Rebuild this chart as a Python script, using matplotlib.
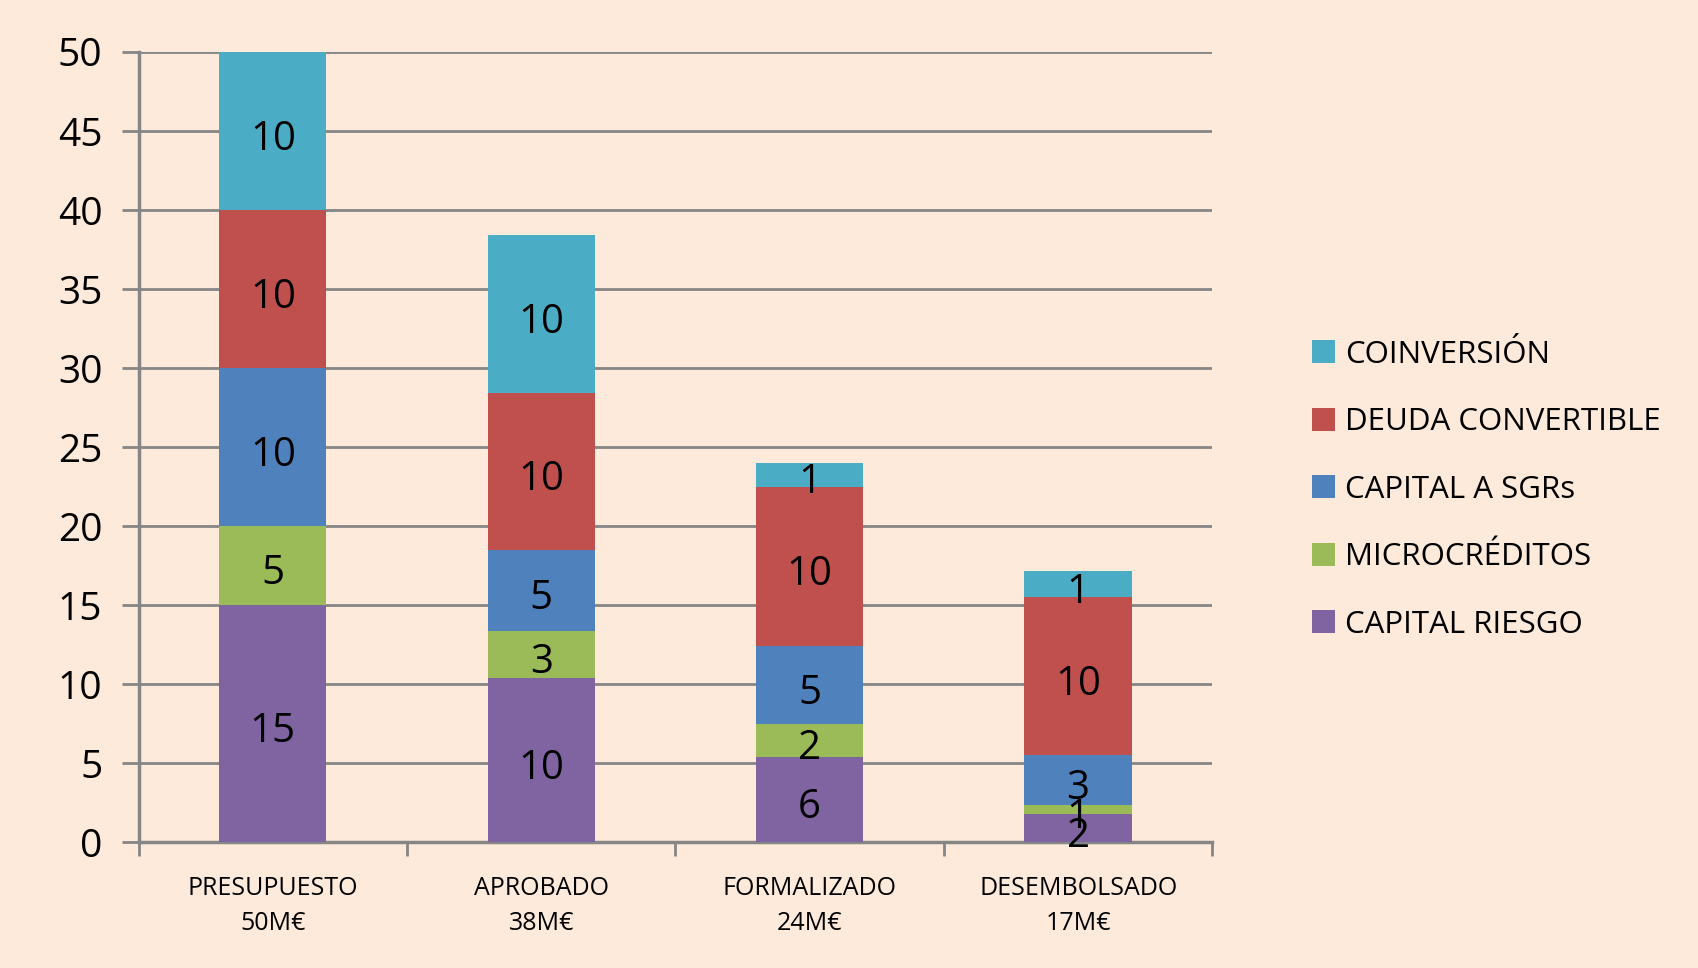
import numpy as np
import matplotlib.pyplot as plt

categorias = ['PRESUPUESTO\n50M€', 'APROBADO\n38M€', 'FORMALIZADO\n24M€', 'DESEMBOLSADO\n17M€']
series = ['CAPITAL RIESGO', 'MICROCRÉDITOS', 'CAPITAL A SGRs', 'DEUDA CONVERTIBLE', 'COINVERSIÓN']

capital_riesgo = [15, 10.4, 5.4, 1.8]
microcreditos = [5, 3.0, 2.1, 0.6]
capital_sgr = [10, 5.1, 4.9, 3.1]
deuda_conv = [10, 9.9, 10.1, 10.0]
coinversion = [10, 10.0, 1.5, 1.7]

etiq_riesgo = ['15', '10', '6', '2']
etiq_micro = ['5', '3', '2', '1']
etiq_sgr = ['10', '5', '5', '3']
etiq_deuda = ['10', '10', '10', '10']
etiq_coinv = ['10', '10', '1', '1']

colores = ['#8064A2', '#9BBB59', '#4F81BD', '#C0504D', '#4BACC6']
fondo = '#FDEADA'

plt.rcParams['font.family'] = ['Open Sans', 'DejaVu Sans']

fig = plt.figure(figsize=(16.98, 9.68), dpi=100, facecolor=fondo)
ax = fig.add_axes([0.0816, 0.1297, 0.6324, 0.8166])
ax.set_facecolor(fondo)

x = np.arange(len(categorias))
valores = [capital_riesgo, microcreditos, capital_sgr, deuda_conv, coinversion]
etiquetas = [etiq_riesgo, etiq_micro, etiq_sgr, etiq_deuda, etiq_coinv]
base = np.zeros(len(categorias))
barras = []
for vals, labs, col, nom in zip(valores, etiquetas, colores, series):
    vals = np.array(vals)
    b = ax.bar(x, vals, 0.40, bottom=base, color=col, label=nom, zorder=3)
    barras.append(b)
    for xi, v, bi, t in zip(x, vals, base, labs):
        # etiqueta un poco por debajo del centro, como en el original
        ax.annotate(t, (xi, bi + v / 2), xytext=(0, -6), textcoords='offset points',
                    ha='center', va='center', fontsize=29, zorder=4)
    base = base + vals

ax.set_xlim(-0.5, 3.5)
ax.set_ylim(0, 50)
ax.set_yticks(range(0, 51, 5))
ax.yaxis.grid(True, color='#868686', linewidth=2, zorder=0)
ax.tick_params(axis='y', labelsize=28, length=12, width=2, color='#868686', pad=14)

ax.set_xticks(np.arange(-0.5, 3.6, 1))
ax.set_xticklabels([])
ax.set_xticks(x, minor=True)
ax.set_xticklabels(categorias, minor=True, fontsize=18, linespacing=1.55)
ax.tick_params(axis='x', which='major', length=10, width=2, color='#868686', direction='out')
ax.tick_params(axis='x', which='minor', length=0, pad=24)

for s in ['top', 'right']:
    ax.spines[s].set_visible(False)
for s in ['left', 'bottom']:
    ax.spines[s].set_color('#868686')
    ax.spines[s].set_linewidth(2.5)

fig.legend(handles=barras[::-1], labels=series[::-1], loc='upper left',
           bbox_to_anchor=(0.756, 0.678), frameon=False, fontsize=22.5,
           handlelength=0.75, handleheight=0.75, handletextpad=0.3, labelspacing=1.2)

fig.savefig('out.png', dpi=100, facecolor=fondo)
